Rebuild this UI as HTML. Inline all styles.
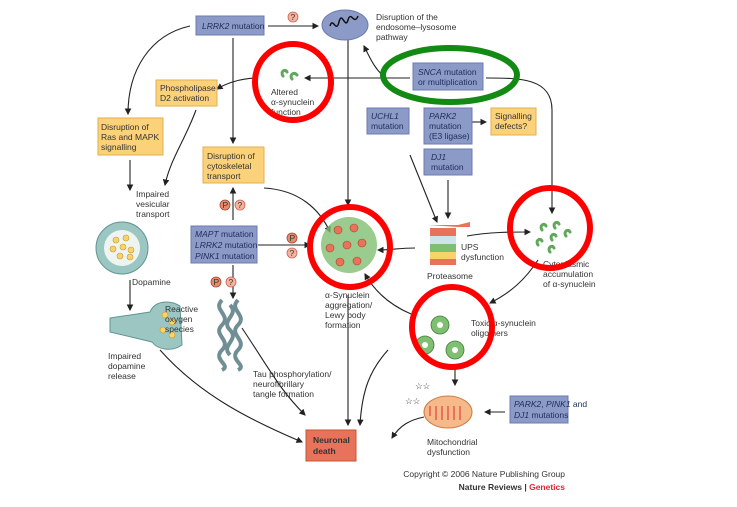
<!DOCTYPE html>
<html><head><meta charset="utf-8"><style>
html,body{margin:0;padding:0;background:#fff}
svg{display:block}
text{font-family:"Liberation Sans",sans-serif;font-size:8.5px;fill:#333}
.b{fill:#8c9ac7;stroke:#6c7bb0;stroke-width:1}
.y{fill:#fbd27a;stroke:#e2b24e;stroke-width:1}
.bt{fill:#1f2d5c}
.l{fill:none;stroke:#222;stroke-width:1.1}
.rc{fill:none;stroke:#f00;stroke-width:6}
.g{fill:#7fbf72;stroke:#3d7a3a;stroke-width:.8}
</style></head><body>
<svg width="737" height="507" viewBox="0 0 737 507" xmlns="http://www.w3.org/2000/svg">
<defs><marker id="a" markerWidth="6" markerHeight="6" refX="5" refY="3" orient="auto"><path d="M0,0L6,3L0,6z" fill="#222"/></marker></defs>

<!-- connectors -->
<g class="l" marker-end="url(#a)">
<path d="M268,26L318,26"/>
<path d="M190,26C150,35 128,70 128,114"/>
<path d="M233,38L233,143"/>
<path d="M258,78C240,78 225,84 217,89"/>
<path d="M196,110C185,140 170,160 165,185"/>
<path d="M130,160L130,190"/>
<path d="M130,280L130,310"/>
<path d="M233,220L233,188"/>
<path d="M233,265L233,298"/>
<path d="M258,245L310,245"/>
<path d="M410,78L305,78"/>
<path d="M386,78C375,70 370,58 364,46"/>
<path d="M410,155C420,180 430,205 437,222"/>
<path d="M448,180L448,218"/>
<path d="M486,78C520,78 552,78 552,110L552,213"/>
<path d="M472,122L486,122"/>
<path d="M467,236C490,232 510,232 530,232"/>
<path d="M415,248C400,248 390,250 378,250"/>
<path d="M538,260C525,280 510,293 490,303"/>
<path d="M411,314C390,305 375,292 365,274"/>
<path d="M264,188C300,190 320,210 330,232"/>
<path d="M348,295L348,425"/>
<path d="M348,40L348,205"/>
<path d="M388,350C370,370 362,390 360,425"/>
<path d="M455,365L455,385"/>
<path d="M505,412L485,412"/>
<path d="M424,417C410,420 400,425 392,438"/>
<path d="M310,320C310,360 350,365 305,434" style="display:none"/>
<path d="M242,328C270,370 280,390 305,415"/>
<path d="M160,350C200,395 250,420 302,442"/>
</g>

<!-- boxes -->
<rect class="b" x="196" y="16" width="68" height="19"/>
<text x="202" y="29" class="bt"><tspan font-style="italic">LRRK2</tspan> mutation</text>
<circle cx="293" cy="17" r="5" fill="#f2b3a0" stroke="#c9654e" stroke-width=".8"/><text x="290.5" y="20" font-size="7">?</text>

<ellipse cx="345" cy="25" rx="23" ry="15" fill="#8c9ac7" stroke="#6c7bb0"/>
<path d="M330,26c3,-10 6,8 9,-4s6,8 9,-2s6,6 10,-4" fill="none" stroke="#111" stroke-width="1.5"/>
<text x="376" y="20">Disruption of the</text>
<text x="376" y="30">endosome–lysosome</text>
<text x="376" y="40">pathway</text>

<rect class="y" x="156" y="80" width="61" height="26"/>
<text x="160" y="91" fill="#222">Phospholipase</text><text x="160" y="101" fill="#222">D2 activation</text>

<rect class="y" x="98" y="118" width="65" height="37"/>
<text x="101" y="130" fill="#222">Disruption of</text><text x="101" y="140" fill="#222">Ras and MAPK</text><text x="101" y="150" fill="#222">signalling</text>

<rect class="y" x="203" y="147" width="61" height="36"/>
<text x="207" y="159" fill="#222">Disruption of</text><text x="207" y="169" fill="#222">cytoskeletal</text><text x="207" y="179" fill="#222">transport</text>

<text x="136" y="197">Impaired</text><text x="136" y="207">vesicular</text><text x="136" y="217">transport</text>

<path d="M283,76c-3,-4 2,-8 4,-4M292,79c-3,-4 2,-8 5,-4" fill="none" stroke="#5fa85a" stroke-width="3" stroke-linecap="round"/>
<text x="271" y="95">Altered</text><text x="271" y="105">α-synuclein</text><text x="271" y="115">function</text>

<rect class="b" x="413" y="63" width="70" height="27"/>
<text x="418" y="75" class="bt"><tspan font-style="italic">SNCA</tspan> mutation</text><text x="418" y="85" class="bt">or multiplication</text>

<rect class="b" x="367" y="108" width="42" height="26"/>
<text x="371" y="119" class="bt" font-style="italic">UCHL1</text><text x="371" y="129" class="bt">mutation</text>
<rect class="b" x="424" y="108" width="48" height="36"/>
<text x="429" y="119" class="bt" font-style="italic">PARK2</text><text x="429" y="129" class="bt">mutation</text><text x="429" y="139" class="bt">(E3 ligase)</text>
<rect class="y" x="491" y="108" width="45" height="27"/>
<text x="495" y="119" fill="#222">Signalling</text><text x="495" y="129" fill="#222">defects?</text>
<rect class="b" x="424" y="149" width="48" height="26"/>
<text x="431" y="160" class="bt" font-style="italic">DJ1</text><text x="431" y="170" class="bt">mutation</text>

<!-- dopamine -->
<circle cx="122" cy="248" r="26" fill="#9cc6c2" stroke="#5f9592"/>
<circle cx="122" cy="248" r="18" fill="#eef5f0"/>
<g fill="#f7d36a" stroke="#c89a2e" stroke-width=".6">
<circle cx="116" cy="240" r="3"/><circle cx="126" cy="238" r="3"/><circle cx="113" cy="249" r="3"/><circle cx="123" cy="247" r="3"/><circle cx="131" cy="250" r="3"/><circle cx="120" cy="256" r="3"/><circle cx="130" cy="257" r="3"/></g>
<text x="132" y="285">Dopamine</text>

<path d="M110,318L150,312C155,300 170,300 180,306L182,345C172,352 158,350 152,342L110,332z" fill="#9cc6c2" stroke="#5f9592"/>
<g fill="#f7d36a" stroke="#c89a2e" stroke-width=".6"><circle cx="165" cy="315" r="3"/><circle cx="172" cy="322" r="3"/><circle cx="163" cy="330" r="3"/><circle cx="172" cy="335" r="3"/></g>
<text x="165" y="312">Reactive</text><text x="165" y="322">oxygen</text><text x="165" y="332">species</text>
<text x="108" y="359">Impaired</text><text x="108" y="369">dopamine</text><text x="108" y="379">release</text>

<circle cx="225" cy="205" r="5" fill="#e58b6e" stroke="#a8442c" stroke-width=".8"/><text x="222.5" y="208" font-size="7">P</text>
<circle cx="240" cy="205" r="5" fill="#f2b3a0" stroke="#c9654e" stroke-width=".8"/><text x="237.5" y="208" font-size="7">?</text>
<rect class="b" x="191" y="226" width="66" height="37"/>
<text x="195" y="237" class="bt"><tspan font-style="italic">MAPT</tspan> mutation</text><text x="195" y="248" class="bt"><tspan font-style="italic">LRRK2</tspan> mutation</text><text x="195" y="259" class="bt"><tspan font-style="italic">PINK1</tspan> mutation</text>
<circle cx="292" cy="238" r="5" fill="#e58b6e" stroke="#a8442c" stroke-width=".8"/><text x="289.5" y="241" font-size="7">P</text>
<circle cx="292" cy="253" r="5" fill="#f2b3a0" stroke="#c9654e" stroke-width=".8"/><text x="289.5" y="256" font-size="7">?</text>
<circle cx="216" cy="282" r="5" fill="#e58b6e" stroke="#a8442c" stroke-width=".8"/><text x="213.5" y="285" font-size="7">P</text>
<circle cx="231" cy="282" r="5" fill="#f2b3a0" stroke="#c9654e" stroke-width=".8"/><text x="228.5" y="285" font-size="7">?</text>

<!-- tau tangles -->
<g fill="none" stroke="#6f8f94" stroke-width="4">
<path d="M222,300c-10,10 10,15 0,25s10,15 0,25s10,15 0,20"/>
<path d="M238,300c-10,10 10,15 0,25s10,15 0,25s10,15 0,20"/>
<path d="M230,305c10,10 -10,15 0,25s-10,15 0,25"/>
</g>
<text x="253" y="377">Tau phosphorylation/</text><text x="253" y="387">neurofibrillary</text><text x="253" y="397">tangle formation</text>

<!-- lewy aggregate -->
<g>
<circle cx="349" cy="245" r="28" fill="#7fbf72" opacity=".8"/>
<g fill="#e8735a" stroke="#a8442c" stroke-width=".6">
<circle cx="338" cy="230" r="4"/><circle cx="354" cy="228" r="4"/><circle cx="330" cy="248" r="4"/><circle cx="347" cy="245" r="4"/><circle cx="362" cy="243" r="4"/><circle cx="340" cy="262" r="4"/><circle cx="357" cy="261" r="4"/></g>
</g>
<text x="325" y="298">α-Synuclein</text><text x="325" y="308">aggregation/</text><text x="325" y="318">Lewy body</text><text x="325" y="328">formation</text>

<!-- proteasome -->
<rect x="430" y="228" width="26" height="8" fill="#e8735a"/>
<rect x="430" y="236" width="26" height="8" fill="#cfe3ea"/>
<rect x="430" y="244" width="26" height="8" fill="#7fbf72"/>
<rect x="430" y="252" width="26" height="7" fill="#f7d36a"/>
<rect x="430" y="259" width="26" height="6" fill="#e8735a"/>
<path d="M428,225h30l12,-3v5h-12" fill="#e8735a"/>
<text x="461" y="250">UPS</text><text x="461" y="260">dysfunction</text>
<text x="427" y="279">Proteasome</text>

<!-- right cytoplasmic -->
<path d="M542,230c-3,-4 2,-8 4,-4M555,228c-3,-4 2,-8 4,-4M538,245c-3,-4 2,-8 4,-4M552,240c-3,-4 2,-8 4,-4M566,236c-3,-4 2,-8 4,-4M550,252c-3,-4 2,-8 4,-4" fill="none" stroke="#5fa85a" stroke-width="3" stroke-linecap="round"/>
<text x="543" y="267">Cytoplasmic</text><text x="543" y="277">accumulation</text><text x="543" y="287">of α-synuclein</text>

<!-- toxic oligomers -->
<g class="g"><circle cx="440" cy="325" r="9"/><circle cx="425" cy="345" r="9"/><circle cx="455" cy="350" r="9"/></g>
<g fill="#fff"><circle cx="440" cy="325" r="3"/><circle cx="425" cy="345" r="3"/><circle cx="455" cy="350" r="3"/></g>
<text x="471" y="326">Toxic α-synuclein</text><text x="471" y="336">oligomers</text>

<!-- mitochondria -->
<ellipse cx="448" cy="412" rx="24" ry="16" fill="#f6b98a" stroke="#d07b44"/>
<path d="M430,412v-6v10M436,420v-14M442,420v-14M448,420v-14M454,420v-14M460,420v-14" stroke="#e8735a" stroke-width="2"/>
<text x="415" y="389" font-size="10" fill="#d9b540">☆☆</text><text x="405" y="404" font-size="10" fill="#d9b540">☆☆</text>
<text x="427" y="445">Mitochondrial</text><text x="427" y="455">dysfunction</text>
<rect class="b" x="510" y="396" width="58" height="27"/>
<text x="514" y="407" class="bt"><tspan font-style="italic">PARK2</tspan>, <tspan font-style="italic">PINK1</tspan> and</text><text x="514" y="418" class="bt" font-style="italic">DJ1 <tspan font-style="normal">mutations</tspan></text>

<rect x="306" y="430" width="50" height="31" fill="#e8735a" stroke="#c55638"/>
<text x="313" y="443" font-weight="bold" fill="#111">Neuronal</text><text x="313" y="454" font-weight="bold" fill="#111">death</text>

<text x="565" y="477" text-anchor="end" font-size="8">Copyright © 2006 Nature Publishing Group</text>
<text x="565" y="490" text-anchor="end" font-size="8" font-weight="bold" fill="#222">Nature Reviews | <tspan fill="#d9263a">Genetics</tspan></text>

<!-- highlight circles -->
<circle class="rc" cx="293" cy="82" r="38"/>
<ellipse cx="450" cy="75" rx="67" ry="27" fill="none" stroke="#138a13" stroke-width="6"/>
<circle class="rc" cx="350" cy="247" r="40"/>
<circle class="rc" cx="550" cy="228" r="40"/>
<circle class="rc" cx="452" cy="327" r="40"/>
</svg>
</body></html>
